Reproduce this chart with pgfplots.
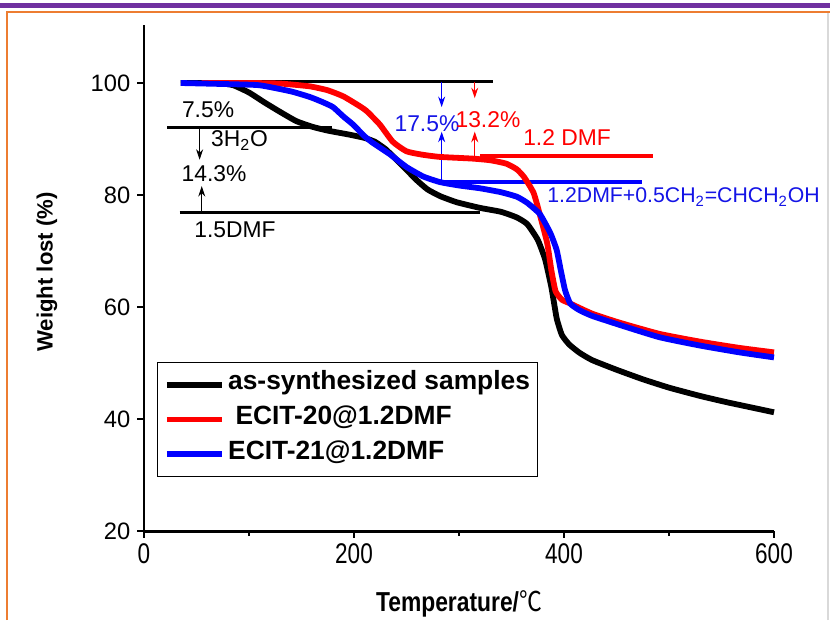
\documentclass[border=0pt]{standalone}
\usepackage{pgfplots}
\pgfplotsset{compat=1.18}
\usepackage{graphicx}
\usepackage{fontspec}
\setmainfont{Liberation Sans}
\newfontfamily\cjk{Noto Sans CJK SC}
\usetikzlibrary{arrows.meta}

\definecolor{barpurple}{RGB}{112,48,160}
\definecolor{frameorange}{RGB}{237,125,49}
\definecolor{cred}{RGB}{255,0,0}
\definecolor{cblue}{RGB}{0,0,255}
\definecolor{tblue}{RGB}{20,20,230}

\pgfplotstableread{
T W
35 100
70 100
85 99.6
100 98.3
115 96.5
130 94.8
145 93.2
160 92.2
175 91.5
195 90.8
210 90.2
220 89.5
230 88.2
240 86.4
250 84.5
260 82.6
270 81.0
282 79.8
298 78.7
320 77.7
340 77.0
355 76.0
365 74.8
375 72.0
382 68.5
388 63.5
393 58.0
398 55.0
405 53.3
415 51.8
427 50.5
450 48.8
475 47.1
500 45.6
530 44.1
555 43.0
580 42.0
600 41.2
}\tblack

\pgfplotstableread{
T W
55 100
100 100
130 99.9
158 99.4
175 98.7
190 97.6
206 95.8
212 95.0
220 93.5
225 92.5
237 89.5
250 87.8
265 87.2
282 86.8
313 86.5
330 86.2
345 85.6
355 84.6
362 83.2
371 80.4
377 76.5
384 71.4
388 66.5
392 62.8
398 61.3
405 60.7
427 58.8
453 57.2
491 55.2
530 53.8
567 52.7
600 51.9
}\tred

\pgfplotstableread{
T W
35 100
80 99.8
110 99.6
140 98.5
158 97.5
170 96.6
180 95.7
190 94.0
199 92.6
210 90.5
218 89.3
234 87.3
250 85.0
266 83.3
282 82.3
300 81.7
320 81.2
340 80.5
355 79.7
365 78.6
377 76.6
387 73.2
393 70.2
397 66.5
401 63.0
406 60.6
415 59.4
427 58.4
453 56.8
491 54.6
530 53.1
567 51.9
600 51.0
}\tblue

\begin{document}
\begin{tikzpicture}
\useasboundingbox (0,0) rectangle (16.6cm,12.4cm);
\begin{axis}[
    at={(2.88cm,1.78cm)}, anchor=south west,
    scale only axis,
    width=12.6cm, height=10.12cm,
    xmin=0, xmax=600,
    ymin=20, ymax=110.36,
    axis lines*=left,
    axis line style={line width=1.7pt},
    clip=false,
    xtick={0,200,400,600},
    minor xtick={100,300,500},
    ytick={20,40,60,80,100},
    tick align=outside,
    major tick length=0.13cm,
    minor tick length=0.09cm,
    every tick/.style={line width=1.5pt, black},
    tick label style={font=\fontsize{13.5}{15}\selectfont},
    xticklabel={\scalebox{0.95}[1.2]{\pgfmathprintnumber[assume math mode=true]{\tick}}},
    yticklabel={\pgfmathprintnumber[assume math mode=true]{\tick}},
    yticklabel style={xshift=-0.02cm},
    xlabel={\scalebox{1}[1.2]{Temperature/{\cjk\mdseries ℃}}},
    ylabel={Weight lost (\%)},
    xlabel style={at={(axis description cs:0.5,-0.144)}, anchor=center,
        font=\bfseries\fontsize{13}{15}\selectfont},
    ylabel style={at={(axis description cs:-0.154,0.512)}, anchor=center,
        font=\bfseries\fontsize{12.6}{15}\selectfont},
    legend cell align=left,
    legend image code/.code={\draw[#1] (0cm,0cm) -- (1.1cm,0cm);},
    legend style={at={(axis description cs:0.0206,0.334)}, anchor=north west,
        draw=black, line width=0.6pt, inner xsep=0.13cm, inner ysep=0.26cm,
        font=\bfseries\fontsize{15}{18}\selectfont,
        nodes={inner xsep=0.5pt, inner ysep=0.5pt, text height=0.75em, text depth=0.2em},
        row sep=9.3pt, column sep=0.05cm},
]
% reference lines and arrows
\addplot[black, line width=1.7pt, forget plot] coordinates {(53,100.2) (332,100.2)};
\addplot[black, line width=1.7pt, forget plot] coordinates {(22,92.0) (179,92.0)};
\addplot[black, line width=1.7pt, forget plot] coordinates {(34,76.8) (320,76.8)};
\addplot[cred, line width=2pt, forget plot] coordinates {(320,87.0) (485,87.0)};
\addplot[cblue, line width=2pt, forget plot] coordinates {(285,82.3) (474,82.3)};
\addplot[black, line width=0.5pt, -{Stealth[length=6pt,width=4pt]}, forget plot] coordinates {(53,92.0) (53,86.3)};
\addplot[black, line width=0.5pt, -{Stealth[length=6pt,width=4pt]}, forget plot] coordinates {(55,76.8) (55,81.6)};
\addplot[cblue, line width=0.6pt, -{Stealth[length=6pt,width=4pt]}, forget plot] coordinates {(283.5,100.2) (283.5,95.7)};
\addplot[cblue, line width=0.6pt, -{Stealth[length=6pt,width=4pt]}, forget plot] coordinates {(283.5,82.3) (283.5,91.3)};
\addplot[cred, line width=0.6pt, -{Stealth[length=6pt,width=4pt]}, forget plot] coordinates {(315,100.2) (315,97.3)};
\addplot[cred, line width=0.6pt, -{Stealth[length=6pt,width=4pt]}, forget plot] coordinates {(315,87.0) (315,91.3)};
% curves
\addplot[black, line width=3.3pt, line join=round, smooth, tension=0.3] table[x=T,y=W] {\tblack};
\addlegendentry{as-synthesized samples}
\addplot[cred, line width=3.3pt, line join=round, smooth, tension=0.3] table[x=T,y=W] {\tred};
\addlegendentry{\ ECIT-20@1.2DMF}
\addplot[cblue, line width=3.3pt, line join=round, smooth, tension=0.3] table[x=T,y=W] {\tblue};
\addlegendentry{ECIT-21@1.2DMF}
% annotations
\begin{scope}[font=\fontsize{13}{15}\selectfont]
\node at (axis cs:61,95.2) {7.5\%};
\node[anchor=base west] at (axis cs:58,88.6) {3H\textsubscript{2}O};
\node at (axis cs:66.7,83.9) {14.3\%};
\node at (axis cs:86.7,73.75) {1.5DMF};
\node[text=tblue] at (axis cs:269.5,92.7) {17.5\%};
\node[text=cred] at (axis cs:327.6,93.4) {13.2\%};
\node[text=cred] at (axis cs:402.9,90.2) {1.2 DMF};
\node[text=tblue, anchor=base west, inner sep=0pt, font=\fontsize{12.1}{14}\selectfont] at (axis cs:383.8,78.6) {1.2DMF+0.5CH\textsubscript{2}=CHCH\textsubscript{2}OH};
\end{scope}
\end{axis}
% page frame
\fill[barpurple] (0,12.24cm) rectangle (16.6cm,12.34cm);
\draw[frameorange, line width=1.1pt] (0.14cm,0) -- (0.14cm,12.16cm) -- (16.6cm,12.16cm);
\draw[gray!30, line width=0.6pt] (16.56cm,0) -- (16.56cm,12.14cm);
\end{tikzpicture}
\end{document}
